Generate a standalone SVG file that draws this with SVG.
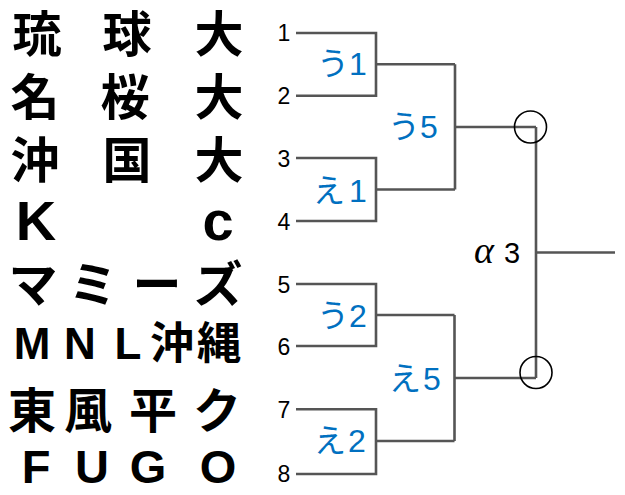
<svg xmlns="http://www.w3.org/2000/svg" width="625" height="495" viewBox="0 0 625 495">
<style>
.team{font-family:"Liberation Sans","Noto Sans CJK JP",sans-serif;font-weight:bold;fill:#000;text-anchor:middle}
.num{font-family:"Liberation Sans","Noto Sans CJK JP",sans-serif;font-size:23px;fill:#000;text-anchor:middle}
.lbl{font-family:"Liberation Sans","Noto Sans CJK JP",sans-serif;font-size:32px;fill:#0070C0}
.ln{fill:none;stroke:#555;stroke-width:2.6}
.cir{fill:none;stroke:#000;stroke-width:1.6}
</style>
<rect width="625" height="495" fill="#fff"/>
<g id="teams">
<g id="team1"><text class="team" font-size="49" x="37 127 219" y="52">琉球大</text></g>
<g id="team2"><text class="team" font-size="49" x="35 125 219" y="115">名桜大</text></g>
<g id="team3"><text class="team" font-size="49" x="35 127 219" y="178">沖国大</text></g>
<g id="team4"><text class="team" font-size="56" x="36 218" y="240">Kc</text></g>
<g id="team5"><text class="team" font-size="49" x="33 93 157 218" y="302">マミーズ</text></g>
<g id="team6"><text class="team" font-size="44" x="32 80 128 172 219" y="359">MNL沖縄</text></g>
<g id="team7"><text class="team" font-size="48" x="32 88 153 217" y="428">東風平ク</text></g>
<g id="team8"><text class="team" font-size="47" x="36 92 148 218" y="483">FUGO</text></g>
</g>
<g id="numbers">
<text class="num" x="284" y="41">1</text>
<text class="num" x="284" y="104">2</text>
<text class="num" x="284" y="167">3</text>
<text class="num" x="284" y="230">4</text>
<text class="num" x="284" y="293">5</text>
<text class="num" x="284" y="355">6</text>
<text class="num" x="284" y="418">7</text>
<text class="num" x="284" y="482">8</text>
</g>
<g id="connectors">
<path class="ln" d="M296,33 H376 V95.7 H296 M376,64.3 H455"/>
<path class="ln" d="M296,158 H376 V221 H296 M376,189.5 H455"/>
<path class="ln" d="M455,64.3 V189.5 M455,127 H536"/>
<path class="ln" d="M296,284 H376 V346 H296 M376,315 H454.5"/>
<path class="ln" d="M296,409.3 H376 V474 H296 M376,441 H454.5"/>
<path class="ln" d="M454.5,315 V441 M454.5,378 H536"/>
<path class="ln" d="M536,127 V378 M536,252.5 H615"/>
</g>
<g id="matches">
<g id="m-u1"><text class="lbl" x="317" y="75">う1</text></g>
<g id="m-e1"><text class="lbl" x="313" y="202">え<tspan dx="4">1</tspan></text></g>
<g id="m-u2"><text class="lbl" x="317" y="327">う2</text></g>
<g id="m-e2"><text class="lbl" x="314" y="452">え<tspan dx="2">2</tspan></text></g>
<g id="m-u5"><text class="lbl" x="388" y="138">う5</text></g>
<g id="m-e5"><text class="lbl" x="389" y="390">え<tspan dx="2">5</tspan></text></g>
<g id="m-a3"><text x="474" y="263" font-family="Liberation Sans,Noto Sans CJK JP,sans-serif" font-size="29" fill="#000"><tspan font-style="italic" font-family="Liberation Serif,serif" font-size="38">α</tspan><tspan dx="10">3</tspan></text></g>
<circle class="cir" cx="530.5" cy="127" r="16"/>
<circle class="cir" cx="536" cy="372.5" r="16"/>
</g>
</svg>
